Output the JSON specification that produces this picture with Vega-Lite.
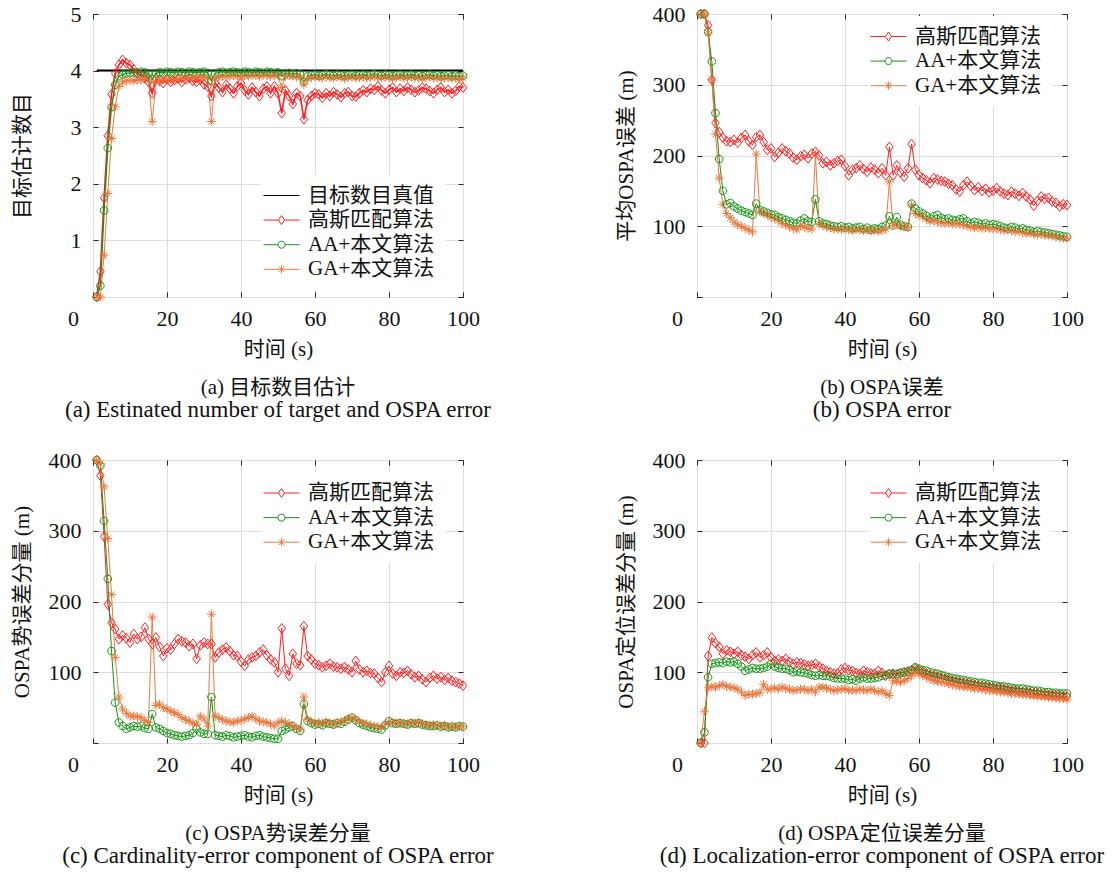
{
"$schema": "https://vega.github.io/schema/vega-lite/v6.json",
"background": "white",
"padding": {"left": 11, "top": 2, "right": 5, "bottom": 5},
"columns": 2,
"spacing": {"row": 163, "column": 234},
"bounds": "flush",
"config": {
  "font": "Liberation Serif, Noto Sans CJK SC",
  "view": {"stroke": "#262626", "strokeWidth": 1},
  "axis": {"grid": true, "gridColor": "#dedede", "gridWidth": 1, "domain": false, "tickSize": -5, "tickColor": "#262626", "tickWidth": 1, "labelFont": "Liberation Serif, Noto Sans CJK SC", "labelFontSize": 22, "labelColor": "#111", "titleFont": "Liberation Serif, Noto Sans CJK SC", "titleFontSize": 21, "titleFontWeight": "normal", "titleColor": "#111", "labelFlush": false, "labelOverlap": false},
  "axisX": {"labelBaseline": "middle", "labelPadding": 26, "titleY": 52, "titleBaseline": "middle"},
  "axisY": {"labelPadding": 17, "labelBaseline": "middle", "titleX": -70.5, "titleY": 141.5, "titleBaseline": "middle", "titleAlign": "center", "titleAngle": -90},
  "legend": {"orient": "none", "title": null, "labelFont": "Liberation Serif, Noto Sans CJK SC", "labelFontSize": 21, "labelColor": "#111", "labelOffset": 16, "labelLimit": 400, "symbolSize": 400, "symbolStrokeWidth": 1, "fillColor": "white", "padding": 10, "rowPadding": 2.6},
  "title": {"orient": "bottom", "anchor": "middle", "font": "Liberation Serif, Noto Sans CJK SC", "fontSize": 21, "fontWeight": "normal", "color": "#111", "subtitleFont": "Liberation Serif, Noto Sans CJK SC", "subtitleFontSize": 23, "subtitleColor": "#111", "subtitlePadding": 1, "offset": 18}
},
"resolve": {"scale": {"color": "independent", "shape": "independent", "stroke": "independent", "strokeWidth": "independent"}, "legend": {"color": "independent", "shape": "independent", "stroke": "independent"}},
"datasets": {
"a": [
{"t":1,"k":4,"r":0,"g":0,"o":0},{"t":2,"k":4,"r":0.45,"g":0.2,"o":0},{"t":3,"k":4,"r":1.75,"g":1.53,"o":0.74},{"t":4,"k":4,"r":2.85,"g":2.63,"o":1.83},{"t":5,"k":4,"r":3.58,"g":3.35,"o":2.8},
{"t":6,"k":4,"r":3.95,"g":3.75,"o":3.36},{"t":7,"k":4,"r":4.1,"g":3.9,"o":3.72},{"t":8,"k":4,"r":4.19,"g":3.93,"o":3.8},{"t":9,"k":4,"r":4.13,"g":3.95,"o":3.82},{"t":10,"k":4,"r":4.1,"g":3.96,"o":3.83},
{"t":11,"k":4,"r":4.02,"g":3.97,"o":3.82},{"t":12,"k":4,"r":3.95,"g":3.96,"o":3.84},{"t":13,"k":4,"r":3.92,"g":3.98,"o":3.83},{"t":14,"k":4,"r":3.88,"g":3.97,"o":3.85},{"t":15,"k":4,"r":3.8,"g":3.95,"o":3.84},
{"t":16,"k":4,"r":3.6,"g":3.85,"o":3.1},{"t":17,"k":4,"r":3.85,"g":3.95,"o":3.8},{"t":18,"k":4,"r":3.82,"g":3.97,"o":3.83},{"t":19,"k":4,"r":3.78,"g":3.96,"o":3.84},{"t":20,"k":4,"r":3.85,"g":3.98,"o":3.85},
{"t":21,"k":4,"r":3.8,"g":3.97,"o":3.84},{"t":22,"k":4,"r":3.83,"g":3.96,"o":3.86},{"t":23,"k":4,"r":3.86,"g":3.98,"o":3.85},{"t":24,"k":4,"r":3.8,"g":3.97,"o":3.87},{"t":25,"k":4,"r":3.84,"g":3.96,"o":3.86},
{"t":26,"k":4,"r":3.87,"g":3.98,"o":3.88},{"t":27,"k":4,"r":3.82,"g":3.97,"o":3.87},{"t":28,"k":4,"r":3.8,"g":3.96,"o":3.88},{"t":29,"k":4,"r":3.84,"g":3.97,"o":3.89},{"t":30,"k":4,"r":3.76,"g":3.98,"o":3.88},
{"t":31,"k":4,"r":3.72,"g":3.96,"o":3.87},{"t":32,"k":4,"r":3.55,"g":3.82,"o":3.1},{"t":33,"k":4,"r":3.78,"g":3.95,"o":3.86},{"t":34,"k":4,"r":3.7,"g":3.97,"o":3.88},{"t":35,"k":4,"r":3.62,"g":3.98,"o":3.9},
{"t":36,"k":4,"r":3.75,"g":3.96,"o":3.89},{"t":37,"k":4,"r":3.68,"g":3.97,"o":3.9},{"t":38,"k":4,"r":3.6,"g":3.98,"o":3.91},{"t":39,"k":4,"r":3.72,"g":3.97,"o":3.9},{"t":40,"k":4,"r":3.78,"g":3.96,"o":3.89},
{"t":41,"k":4,"r":3.65,"g":3.98,"o":3.91},{"t":42,"k":4,"r":3.58,"g":3.97,"o":3.9},{"t":43,"k":4,"r":3.7,"g":3.96,"o":3.92},{"t":44,"k":4,"r":3.62,"g":3.98,"o":3.91},{"t":45,"k":4,"r":3.55,"g":3.97,"o":3.9},
{"t":46,"k":4,"r":3.68,"g":3.96,"o":3.92},{"t":47,"k":4,"r":3.72,"g":3.98,"o":3.91},{"t":48,"k":4,"r":3.6,"g":3.97,"o":3.9},{"t":49,"k":4,"r":3.72,"g":3.96,"o":3.92},{"t":50,"k":4,"r":3.6,"g":3.97,"o":3.91},
{"t":51,"k":4,"r":3.25,"g":3.9,"o":3.7},{"t":52,"k":4,"r":3.65,"g":3.95,"o":3.9},{"t":53,"k":4,"r":3.55,"g":3.96,"o":3.91},{"t":54,"k":4,"r":3.41,"g":3.94,"o":3.9},{"t":55,"k":4,"r":3.6,"g":3.95,"o":3.89},
{"t":56,"k":4,"r":3.55,"g":3.93,"o":3.88},{"t":57,"k":4,"r":3.14,"g":3.8,"o":3.75},{"t":58,"k":4,"r":3.48,"g":3.9,"o":3.86},{"t":59,"k":4,"r":3.55,"g":3.92,"o":3.88},{"t":60,"k":4,"r":3.6,"g":3.93,"o":3.89},
{"t":61,"k":4,"r":3.58,"g":3.91,"o":3.88},{"t":62,"k":4,"r":3.52,"g":3.92,"o":3.87},{"t":63,"k":4,"r":3.6,"g":3.94,"o":3.89},{"t":64,"k":4,"r":3.55,"g":3.92,"o":3.88},{"t":65,"k":4,"r":3.62,"g":3.91,"o":3.87},
{"t":66,"k":4,"r":3.58,"g":3.93,"o":3.89},{"t":67,"k":4,"r":3.53,"g":3.92,"o":3.88},{"t":68,"k":4,"r":3.6,"g":3.9,"o":3.86},{"t":69,"k":4,"r":3.62,"g":3.92,"o":3.88},{"t":70,"k":4,"r":3.55,"g":3.93,"o":3.89},
{"t":71,"k":4,"r":3.54,"g":3.91,"o":3.87},{"t":72,"k":4,"r":3.6,"g":3.92,"o":3.88},{"t":73,"k":4,"r":3.65,"g":3.93,"o":3.89},{"t":74,"k":4,"r":3.62,"g":3.91,"o":3.87},{"t":75,"k":4,"r":3.68,"g":3.92,"o":3.88},
{"t":76,"k":4,"r":3.66,"g":3.94,"o":3.9},{"t":77,"k":4,"r":3.72,"g":3.92,"o":3.88},{"t":78,"k":4,"r":3.65,"g":3.91,"o":3.87},{"t":79,"k":4,"r":3.6,"g":3.93,"o":3.89},{"t":80,"k":4,"r":3.66,"g":3.92,"o":3.88},
{"t":81,"k":4,"r":3.7,"g":3.9,"o":3.86},{"t":82,"k":4,"r":3.62,"g":3.92,"o":3.88},{"t":83,"k":4,"r":3.68,"g":3.93,"o":3.89},{"t":84,"k":4,"r":3.64,"g":3.91,"o":3.87},{"t":85,"k":4,"r":3.7,"g":3.92,"o":3.88},
{"t":86,"k":4,"r":3.66,"g":3.93,"o":3.89},{"t":87,"k":4,"r":3.62,"g":3.91,"o":3.87},{"t":88,"k":4,"r":3.65,"g":3.92,"o":3.88},{"t":89,"k":4,"r":3.7,"g":3.9,"o":3.86},{"t":90,"k":4,"r":3.68,"g":3.92,"o":3.88},
{"t":91,"k":4,"r":3.64,"g":3.93,"o":3.89},{"t":92,"k":4,"r":3.6,"g":3.91,"o":3.87},{"t":93,"k":4,"r":3.66,"g":3.92,"o":3.88},{"t":94,"k":4,"r":3.7,"g":3.9,"o":3.86},{"t":95,"k":4,"r":3.62,"g":3.91,"o":3.87},
{"t":96,"k":4,"r":3.66,"g":3.92,"o":3.88},{"t":97,"k":4,"r":3.6,"g":3.9,"o":3.86},{"t":98,"k":4,"r":3.64,"g":3.91,"o":3.87},{"t":99,"k":4,"r":3.72,"g":3.9,"o":3.86},{"t":100,"k":4,"r":3.7,"g":3.91,"o":3.87}
],
"b": [
{"t":1,"r":400,"g":400,"o":400},{"t":2,"r":400,"g":400,"o":400},{"t":3,"r":384,"g":375,"o":373},{"t":4,"r":307,"g":333,"o":307},{"t":5,"r":246,"g":260,"o":230},
{"t":6,"r":233,"g":195,"o":168},{"t":7,"r":225,"g":150,"o":131},{"t":8,"r":220,"g":131,"o":118},{"t":9,"r":219,"g":133,"o":112},{"t":10,"r":222,"g":128,"o":106},
{"t":11,"r":218,"g":125,"o":102},{"t":12,"r":225,"g":122,"o":100},{"t":13,"r":229,"g":120,"o":97},{"t":14,"r":220,"g":118,"o":95},{"t":15,"r":215,"g":116,"o":92},
{"t":16,"r":226,"g":132,"o":202},{"t":17,"r":229,"g":123,"o":121},{"t":18,"r":219,"g":121,"o":118},{"t":19,"r":208,"g":119,"o":116},{"t":20,"r":210,"g":117,"o":113},
{"t":21,"r":198,"g":116,"o":111},{"t":22,"r":204,"g":113,"o":108},{"t":23,"r":210,"g":111,"o":104},{"t":24,"r":206,"g":109,"o":102},{"t":25,"r":203,"g":107,"o":99},
{"t":26,"r":197,"g":105,"o":97},{"t":27,"r":194,"g":104,"o":95},{"t":28,"r":199,"g":108,"o":101},{"t":29,"r":201,"g":111,"o":99},{"t":30,"r":196,"g":107,"o":97},
{"t":31,"r":203,"g":106,"o":96},{"t":32,"r":205,"g":138,"o":201},{"t":33,"r":200,"g":107,"o":103},{"t":34,"r":189,"g":104,"o":101},{"t":35,"r":191,"g":103,"o":99},
{"t":36,"r":186,"g":101,"o":98},{"t":37,"r":189,"g":100,"o":96},{"t":38,"r":192,"g":99,"o":97},{"t":39,"r":194,"g":100,"o":95},{"t":40,"r":185,"g":98,"o":97},
{"t":41,"r":172,"g":99,"o":95},{"t":42,"r":180,"g":97,"o":94},{"t":43,"r":182,"g":98,"o":96},{"t":44,"r":186,"g":99,"o":95},{"t":45,"r":181,"g":96,"o":94},
{"t":46,"r":177,"g":98,"o":95},{"t":47,"r":183,"g":95,"o":93},{"t":48,"r":180,"g":97,"o":95},{"t":49,"r":175,"g":96,"o":93},{"t":50,"r":182,"g":99,"o":94},
{"t":51,"r":172,"g":101,"o":96},{"t":52,"r":212,"g":114,"o":163},{"t":53,"r":172,"g":101,"o":101},{"t":54,"r":186,"g":113,"o":103},{"t":55,"r":176,"g":102,"o":100},
{"t":56,"r":170,"g":100,"o":99},{"t":57,"r":182,"g":99,"o":98},{"t":58,"r":216,"g":132,"o":130},{"t":59,"r":180,"g":125,"o":118},{"t":60,"r":172,"g":121,"o":116},
{"t":61,"r":168,"g":118,"o":114},{"t":62,"r":165,"g":115,"o":110},{"t":63,"r":161,"g":111,"o":107},{"t":64,"r":168,"g":114,"o":108},{"t":65,"r":166,"g":116,"o":106},
{"t":66,"r":164,"g":112,"o":105},{"t":67,"r":163,"g":110,"o":104},{"t":68,"r":160,"g":111,"o":105},{"t":69,"r":158,"g":109,"o":103},{"t":70,"r":152,"g":108,"o":104},
{"t":71,"r":149,"g":110,"o":103},{"t":72,"r":158,"g":111,"o":102},{"t":73,"r":163,"g":107,"o":100},{"t":74,"r":157,"g":104,"o":99},{"t":75,"r":151,"g":106,"o":98},
{"t":76,"r":155,"g":105,"o":99},{"t":77,"r":150,"g":103,"o":97},{"t":78,"r":153,"g":104,"o":98},{"t":79,"r":148,"g":102,"o":97},{"t":80,"r":150,"g":103,"o":96},
{"t":81,"r":154,"g":102,"o":97},{"t":82,"r":149,"g":100,"o":95},{"t":83,"r":146,"g":98,"o":94},{"t":84,"r":144,"g":97,"o":95},{"t":85,"r":149,"g":99,"o":94},
{"t":86,"r":146,"g":98,"o":92},{"t":87,"r":143,"g":96,"o":93},{"t":88,"r":147,"g":97,"o":91},{"t":89,"r":142,"g":95,"o":90},{"t":90,"r":138,"g":94,"o":91},
{"t":91,"r":129,"g":92,"o":89},{"t":92,"r":136,"g":93,"o":88},{"t":93,"r":142,"g":92,"o":89},{"t":94,"r":139,"g":91,"o":87},{"t":95,"r":140,"g":90,"o":88},
{"t":96,"r":135,"g":89,"o":86},{"t":97,"r":133,"g":88,"o":85},{"t":98,"r":128,"g":87,"o":84},{"t":99,"r":131,"g":86,"o":83},{"t":100,"r":130,"g":85,"o":83}
],
"c": [
{"t":1,"r":400,"g":400,"o":400},{"t":2,"r":378,"g":392,"o":395},{"t":3,"r":292,"g":314,"o":362},{"t":4,"r":196,"g":232,"o":289},{"t":5,"r":170,"g":130,"o":210},
{"t":6,"r":161,"g":57,"o":121},{"t":7,"r":147,"g":29,"o":65},{"t":8,"r":152,"g":24,"o":48},{"t":9,"r":148,"g":20,"o":42},{"t":10,"r":142,"g":22,"o":38},
{"t":11,"r":154,"g":24,"o":38},{"t":12,"r":147,"g":23,"o":37},{"t":13,"r":150,"g":24,"o":36},{"t":14,"r":163,"g":21,"o":32},{"t":15,"r":147,"g":20,"o":29},
{"t":16,"r":140,"g":41,"o":178},{"t":17,"r":149,"g":22,"o":53},{"t":18,"r":136,"g":20,"o":55},{"t":19,"r":123,"g":17,"o":50},{"t":20,"r":134,"g":14,"o":48},
{"t":21,"r":132,"g":13,"o":45},{"t":22,"r":140,"g":11,"o":43},{"t":23,"r":147,"g":10,"o":40},{"t":24,"r":144,"g":9,"o":36},{"t":25,"r":142,"g":10,"o":33},
{"t":26,"r":137,"g":11,"o":31},{"t":27,"r":140,"g":14,"o":28},{"t":28,"r":119,"g":20,"o":26},{"t":29,"r":138,"g":15,"o":38},{"t":30,"r":142,"g":13,"o":34},
{"t":31,"r":140,"g":13,"o":24},{"t":32,"r":140,"g":65,"o":182},{"t":33,"r":121,"g":11,"o":38},{"t":34,"r":128,"g":10,"o":36},{"t":35,"r":132,"g":9,"o":33},
{"t":36,"r":135,"g":11,"o":31},{"t":37,"r":130,"g":10,"o":30},{"t":38,"r":124,"g":8,"o":29},{"t":39,"r":123,"g":9,"o":31},{"t":40,"r":115,"g":10,"o":32},
{"t":41,"r":109,"g":11,"o":34},{"t":42,"r":118,"g":9,"o":36},{"t":43,"r":121,"g":8,"o":38},{"t":44,"r":123,"g":10,"o":34},{"t":45,"r":128,"g":11,"o":31},
{"t":46,"r":132,"g":9,"o":30},{"t":47,"r":124,"g":8,"o":29},{"t":48,"r":118,"g":7,"o":27},{"t":49,"r":114,"g":6,"o":24},{"t":50,"r":100,"g":6,"o":29},
{"t":51,"r":162,"g":17,"o":31},{"t":52,"r":105,"g":19,"o":29},{"t":53,"r":95,"g":22,"o":27},{"t":54,"r":126,"g":24,"o":24},{"t":55,"r":112,"g":20,"o":21},
{"t":56,"r":110,"g":17,"o":19},{"t":57,"r":165,"g":55,"o":65},{"t":58,"r":123,"g":31,"o":33},{"t":59,"r":118,"g":28,"o":30},{"t":60,"r":112,"g":26,"o":28},
{"t":61,"r":110,"g":27,"o":29},{"t":62,"r":107,"g":25,"o":27},{"t":63,"r":109,"g":28,"o":30},{"t":64,"r":112,"g":27,"o":28},{"t":65,"r":108,"g":26,"o":27},
{"t":66,"r":107,"g":28,"o":29},{"t":67,"r":105,"g":27,"o":30},{"t":68,"r":107,"g":30,"o":32},{"t":69,"r":104,"g":33,"o":34},{"t":70,"r":100,"g":36,"o":36},
{"t":71,"r":116,"g":32,"o":33},{"t":72,"r":104,"g":28,"o":30},{"t":73,"r":100,"g":26,"o":28},{"t":74,"r":102,"g":24,"o":27},{"t":75,"r":99,"g":22,"o":25},
{"t":76,"r":98,"g":21,"o":24},{"t":77,"r":92,"g":20,"o":23},{"t":78,"r":86,"g":19,"o":22},{"t":79,"r":100,"g":25,"o":27},{"t":80,"r":109,"g":31,"o":30},
{"t":81,"r":98,"g":28,"o":29},{"t":82,"r":95,"g":27,"o":28},{"t":83,"r":100,"g":28,"o":29},{"t":84,"r":99,"g":27,"o":28},{"t":85,"r":102,"g":26,"o":27},
{"t":86,"r":97,"g":28,"o":29},{"t":87,"r":93,"g":27,"o":28},{"t":88,"r":95,"g":28,"o":29},{"t":89,"r":90,"g":26,"o":27},{"t":90,"r":86,"g":25,"o":26},
{"t":91,"r":92,"g":24,"o":25},{"t":92,"r":95,"g":24,"o":26},{"t":93,"r":91,"g":25,"o":25},{"t":94,"r":93,"g":23,"o":24},{"t":95,"r":89,"g":24,"o":25},
{"t":96,"r":92,"g":22,"o":23},{"t":97,"r":88,"g":23,"o":24},{"t":98,"r":86,"g":22,"o":23},{"t":99,"r":84,"g":24,"o":24},{"t":100,"r":81,"g":23,"o":23}
],
"d": [
{"t":1,"r":0,"g":0,"o":0},{"t":2,"r":0,"g":15,"o":45},{"t":3,"r":123,"g":93,"o":78},{"t":4,"r":149,"g":112,"o":80},{"t":5,"r":141,"g":113,"o":79},
{"t":6,"r":136,"g":114,"o":81},{"t":7,"r":126,"g":113,"o":83},{"t":8,"r":131,"g":115,"o":80},{"t":9,"r":129,"g":114,"o":79},{"t":10,"r":126,"g":115,"o":78},
{"t":11,"r":129,"g":112,"o":76},{"t":12,"r":124,"g":108,"o":72},{"t":13,"r":122,"g":102,"o":67},{"t":14,"r":119,"g":104,"o":69},{"t":15,"r":124,"g":106,"o":69},
{"t":16,"r":128,"g":105,"o":70},{"t":17,"r":121,"g":105,"o":71},{"t":18,"r":124,"g":106,"o":83},{"t":19,"r":128,"g":108,"o":76},{"t":20,"r":121,"g":112,"o":76},
{"t":21,"r":116,"g":108,"o":78},{"t":22,"r":118,"g":106,"o":76},{"t":23,"r":116,"g":105,"o":79},{"t":24,"r":119,"g":105,"o":77},{"t":25,"r":115,"g":103,"o":76},
{"t":26,"r":112,"g":100,"o":74},{"t":27,"r":114,"g":101,"o":75},{"t":28,"r":113,"g":100,"o":76},{"t":29,"r":111,"g":99,"o":76},{"t":30,"r":109,"g":98,"o":74},
{"t":31,"r":110,"g":96,"o":76},{"t":32,"r":112,"g":95,"o":72},{"t":33,"r":108,"g":96,"o":79},{"t":34,"r":105,"g":95,"o":79},{"t":35,"r":102,"g":95,"o":77},
{"t":36,"r":100,"g":94,"o":76},{"t":37,"r":98,"g":92,"o":74},{"t":38,"r":98,"g":91,"o":75},{"t":39,"r":104,"g":91,"o":76},{"t":40,"r":106,"g":91,"o":77},
{"t":41,"r":103,"g":89,"o":74},{"t":42,"r":102,"g":90,"o":75},{"t":43,"r":99,"g":88,"o":74},{"t":44,"r":98,"g":91,"o":76},{"t":45,"r":102,"g":93,"o":75},
{"t":46,"r":100,"g":91,"o":74},{"t":47,"r":98,"g":91,"o":76},{"t":48,"r":98,"g":92,"o":74},{"t":49,"r":102,"g":93,"o":72},{"t":50,"r":99,"g":95,"o":74},
{"t":51,"r":95,"g":96,"o":70},{"t":52,"r":97,"g":98,"o":67},{"t":53,"r":98,"g":97,"o":88},{"t":54,"r":96,"g":98,"o":87},{"t":55,"r":99,"g":99,"o":86},
{"t":56,"r":100,"g":100,"o":88},{"t":57,"r":101,"g":101,"o":91},{"t":58,"r":103,"g":103,"o":95},{"t":59,"r":105,"g":107,"o":100},{"t":60,"r":103,"g":105,"o":98},
{"t":61,"r":100,"g":103,"o":95},{"t":62,"r":98,"g":102,"o":93},{"t":63,"r":96,"g":100,"o":90},{"t":64,"r":95,"g":99,"o":88},{"t":65,"r":94,"g":98,"o":87},
{"t":66,"r":92,"g":96,"o":86},{"t":67,"r":91,"g":95,"o":85},{"t":68,"r":90,"g":93,"o":84},{"t":69,"r":88,"g":92,"o":82},{"t":70,"r":87,"g":91,"o":81},
{"t":71,"r":86,"g":90,"o":80},{"t":72,"r":85,"g":89,"o":79},{"t":73,"r":84,"g":88,"o":79},{"t":74,"r":83,"g":87,"o":78},{"t":75,"r":82,"g":86,"o":77},
{"t":76,"r":81,"g":85,"o":77},{"t":77,"r":80,"g":85,"o":76},{"t":78,"r":80,"g":84,"o":75},{"t":79,"r":79,"g":83,"o":74},{"t":80,"r":78,"g":82,"o":74},
{"t":81,"r":77,"g":81,"o":73},{"t":82,"r":77,"g":80,"o":72},{"t":83,"r":76,"g":80,"o":72},{"t":84,"r":75,"g":79,"o":71},{"t":85,"r":74,"g":78,"o":70},
{"t":86,"r":74,"g":77,"o":70},{"t":87,"r":73,"g":77,"o":69},{"t":88,"r":72,"g":77,"o":69},{"t":89,"r":72,"g":76,"o":68},{"t":90,"r":71,"g":75,"o":67},
{"t":91,"r":70,"g":74,"o":67},{"t":92,"r":70,"g":74,"o":66},{"t":93,"r":69,"g":73,"o":66},{"t":94,"r":69,"g":72,"o":65},{"t":95,"r":68,"g":72,"o":65},
{"t":96,"r":68,"g":71,"o":64},{"t":97,"r":67,"g":71,"o":64},{"t":98,"r":67,"g":70,"o":63},{"t":99,"r":66,"g":70,"o":63},{"t":100,"r":66,"g":70,"o":62}
]
},
"concat": [
{
 "width": 370, "height": 283,
 "data": {"name": "a"},
 "transform": [{"fold": ["k", "r", "g", "o"], "as": ["s", "v"]}],
 "title": {"text": "(a) 目标数目估计", "subtitle": "(a) Estinated number of target and OSPA error"},
 "layer": [
  {"mark": {"type": "line"},
   "encoding": {
    "x": {"field": "t", "type": "quantitative", "scale": {"domain": [0, 100], "nice": false}, "axis": {"title": "时间 (s)", "values": [0, 20, 40, 60, 80, 100], "labelOffset": {"condition": {"test": "datum.value === 0", "value": -20}, "value": 0}}},
    "y": {"field": "v", "type": "quantitative", "scale": {"domain": [0, 5], "nice": false}, "axis": {"title": "目标估计数目", "values": [0, 1, 2, 3, 4, 5], "labelExpr": "datum.value === 0 ? '' : datum.label"}},
    "color": {"field": "s", "type": "nominal", "scale": {"domain": ["k", "r", "g", "o"], "range": ["#000000", "#ff2020", "#149614", "#ea7a3f"]}, "legend": null},
    "strokeWidth": {"field": "s", "type": "nominal", "scale": {"domain": ["k", "r", "g", "o"], "range": [2, 1, 1, 1]}, "legend": null}
   }},
  {"transform": [{"filter": "datum.s != 'k'"}],
   "mark": {"type": "point", "filled": false, "strokeWidth": 1, "size": 80, "opacity": 1},
   "encoding": {
    "x": {"field": "t", "type": "quantitative", "axis": null},
    "y": {"field": "v", "type": "quantitative", "axis": null},
    "color": {"field": "s", "type": "nominal", "legend": null},
    "shape": {"field": "s", "type": "nominal", "scale": {"domain": ["r", "g", "o"], "range": ["M0,-1.1L0.85,0L0,1.1L-0.85,0Z", "M-0.85,0A0.85,0.85 0 1,1 0.85,0A0.85,0.85 0 1,1 -0.85,0Z", "M0,-1L0,1M-1,0L1,0M-0.7,-0.7L0.7,0.7M-0.7,0.7L0.7,-0.7"]}, "legend": null}
   }},
  {"transform": [{"filter": "false"}],
   "mark": {"type": "point", "filled": false, "strokeWidth": 1, "opacity": 1},
   "encoding": {
    "x": {"field": "t", "type": "quantitative", "axis": {"orient": "top", "labels": false, "title": null, "grid": false, "values": [0, 20, 40, 60, 80, 100]}},
    "y": {"field": "v", "type": "quantitative", "axis": {"orient": "right", "labels": false, "title": null, "grid": false, "values": [0, 1, 2, 3, 4, 5]}},
    "stroke": {"field": "s", "type": "nominal", "scale": {"domain": ["k", "r", "g", "o"], "range": ["#000000", "#ff2020", "#149614", "#ea7a3f"]}, "legend": {"legendX": 168, "legendY": 161, "labelExpr": "datum.label == 'k' ? '目标数目真值' : datum.label == 'r' ? '高斯匹配算法' : datum.label == 'g' ? 'AA+本文算法' : 'GA+本文算法'"}},
    "shape": {"field": "s", "type": "nominal", "scale": {"domain": ["k", "r", "g", "o"], "range": ["M-1.8,0L1.8,0", "M-1.8,0L-0.3,0M0.3,0L1.8,0M0,-0.45L0.3,0L0,0.45L-0.3,0Z", "M-1.8,0L-0.35,0M0.35,0L1.8,0M-0.35,0A0.35,0.35 0 1,1 0.35,0A0.35,0.35 0 1,1 -0.35,0Z", "M-1.8,0L1.8,0M0,-0.4L0,0.4M-0.28,-0.28L0.28,0.28M-0.28,0.28L0.28,-0.28"]}, "legend": {"legendX": 168, "legendY": 161, "labelExpr": "datum.label == 'k' ? '目标数目真值' : datum.label == 'r' ? '高斯匹配算法' : datum.label == 'g' ? 'AA+本文算法' : 'GA+本文算法'"}}
   }}
 ],
 "resolve": {"scale": {"shape": "independent", "stroke": "independent"}, "axis": {"x": "independent", "y": "independent"}}
},
{
 "width": 370, "height": 283,
 "data": {"name": "b"},
 "transform": [{"fold": ["r", "g", "o"], "as": ["s", "v"]}],
 "title": {"text": "(b) OSPA误差", "subtitle": "(b) OSPA error"},
 "layer": [
  {"mark": {"type": "line", "strokeWidth": 1},
   "encoding": {
    "x": {"field": "t", "type": "quantitative", "scale": {"domain": [0, 100], "nice": false}, "axis": {"title": "时间 (s)", "values": [0, 20, 40, 60, 80, 100], "labelOffset": {"condition": {"test": "datum.value === 0", "value": -20}, "value": 0}}},
    "y": {"field": "v", "type": "quantitative", "scale": {"domain": [0, 400], "nice": false}, "axis": {"title": "平均OSPA误差 (m)", "values": [0, 100, 200, 300, 400], "labelExpr": "datum.value === 0 ? '' : datum.label"}},
    "color": {"field": "s", "type": "nominal", "scale": {"domain": ["r", "g", "o"], "range": ["#ff2020", "#149614", "#ea7a3f"]}, "legend": null}
   }},
  {"mark": {"type": "point", "filled": false, "strokeWidth": 1, "size": 80, "opacity": 1},
   "encoding": {
    "x": {"field": "t", "type": "quantitative", "axis": null},
    "y": {"field": "v", "type": "quantitative", "axis": null},
    "color": {"field": "s", "type": "nominal", "legend": null},
    "shape": {"field": "s", "type": "nominal", "scale": {"domain": ["r", "g", "o"], "range": ["M0,-1.1L0.85,0L0,1.1L-0.85,0Z", "M-0.85,0A0.85,0.85 0 1,1 0.85,0A0.85,0.85 0 1,1 -0.85,0Z", "M0,-1L0,1M-1,0L1,0M-0.7,-0.7L0.7,0.7M-0.7,0.7L0.7,-0.7"]}, "legend": null}
   }},
  {"transform": [{"filter": "false"}],
   "mark": {"type": "point", "filled": false, "strokeWidth": 1, "opacity": 1},
   "encoding": {
    "x": {"field": "t", "type": "quantitative", "axis": {"orient": "top", "labels": false, "title": null, "grid": false, "values": [0, 20, 40, 60, 80, 100]}},
    "y": {"field": "v", "type": "quantitative", "axis": {"orient": "right", "labels": false, "title": null, "grid": false, "values": [0, 100, 200, 300, 400]}},
    "stroke": {"field": "s", "type": "nominal", "scale": {"domain": ["r", "g", "o"], "range": ["#ff2020", "#149614", "#ea7a3f"]}, "legend": {"legendX": 171, "legendY": 2, "rowPadding": 2.6, "labelExpr": "datum.label == 'r' ? '高斯匹配算法' : datum.label == 'g' ? 'AA+本文算法' : 'GA+本文算法'"}},
    "shape": {"field": "s", "type": "nominal", "scale": {"domain": ["r", "g", "o"], "range": ["M-1.8,0L-0.3,0M0.3,0L1.8,0M0,-0.45L0.3,0L0,0.45L-0.3,0Z", "M-1.8,0L-0.35,0M0.35,0L1.8,0M-0.35,0A0.35,0.35 0 1,1 0.35,0A0.35,0.35 0 1,1 -0.35,0Z", "M-1.8,0L1.8,0M0,-0.4L0,0.4M-0.28,-0.28L0.28,0.28M-0.28,0.28L0.28,-0.28"]}, "legend": {"legendX": 171, "legendY": 2, "rowPadding": 2.6, "labelExpr": "datum.label == 'r' ? '高斯匹配算法' : datum.label == 'g' ? 'AA+本文算法' : 'GA+本文算法'"}}
   }}
 ],
 "resolve": {"scale": {"shape": "independent", "stroke": "independent"}, "axis": {"x": "independent", "y": "independent"}}
},
{
 "width": 370, "height": 283,
 "data": {"name": "c"},
 "transform": [{"fold": ["r", "g", "o"], "as": ["s", "v"]}],
 "title": {"text": "(c) OSPA势误差分量", "subtitle": "(c) Cardinality-error component of OSPA error"},
 "layer": [
  {"mark": {"type": "line", "strokeWidth": 1},
   "encoding": {
    "x": {"field": "t", "type": "quantitative", "scale": {"domain": [0, 100], "nice": false}, "axis": {"title": "时间 (s)", "values": [0, 20, 40, 60, 80, 100], "labelOffset": {"condition": {"test": "datum.value === 0", "value": -20}, "value": 0}}},
    "y": {"field": "v", "type": "quantitative", "scale": {"domain": [0, 400], "nice": false}, "axis": {"title": "OSPA势误差分量 (m)", "values": [0, 100, 200, 300, 400], "labelExpr": "datum.value === 0 ? '' : datum.label"}},
    "color": {"field": "s", "type": "nominal", "scale": {"domain": ["r", "g", "o"], "range": ["#ff2020", "#149614", "#ea7a3f"]}, "legend": null}
   }},
  {"mark": {"type": "point", "filled": false, "strokeWidth": 1, "size": 80, "opacity": 1},
   "encoding": {
    "x": {"field": "t", "type": "quantitative", "axis": null},
    "y": {"field": "v", "type": "quantitative", "axis": null},
    "color": {"field": "s", "type": "nominal", "legend": null},
    "shape": {"field": "s", "type": "nominal", "scale": {"domain": ["r", "g", "o"], "range": ["M0,-1.1L0.85,0L0,1.1L-0.85,0Z", "M-0.85,0A0.85,0.85 0 1,1 0.85,0A0.85,0.85 0 1,1 -0.85,0Z", "M0,-1L0,1M-1,0L1,0M-0.7,-0.7L0.7,0.7M-0.7,0.7L0.7,-0.7"]}, "legend": null}
   }},
  {"transform": [{"filter": "false"}],
   "mark": {"type": "point", "filled": false, "strokeWidth": 1, "opacity": 1},
   "encoding": {
    "x": {"field": "t", "type": "quantitative", "axis": {"orient": "top", "labels": false, "title": null, "grid": false, "values": [0, 20, 40, 60, 80, 100]}},
    "y": {"field": "v", "type": "quantitative", "axis": {"orient": "right", "labels": false, "title": null, "grid": false, "values": [0, 100, 200, 300, 400]}},
    "stroke": {"field": "s", "type": "nominal", "scale": {"domain": ["r", "g", "o"], "range": ["#ff2020", "#149614", "#ea7a3f"]}, "legend": {"legendX": 168, "legendY": 12.5, "labelExpr": "datum.label == 'r' ? '高斯匹配算法' : datum.label == 'g' ? 'AA+本文算法' : 'GA+本文算法'"}},
    "shape": {"field": "s", "type": "nominal", "scale": {"domain": ["r", "g", "o"], "range": ["M-1.8,0L-0.3,0M0.3,0L1.8,0M0,-0.45L0.3,0L0,0.45L-0.3,0Z", "M-1.8,0L-0.35,0M0.35,0L1.8,0M-0.35,0A0.35,0.35 0 1,1 0.35,0A0.35,0.35 0 1,1 -0.35,0Z", "M-1.8,0L1.8,0M0,-0.4L0,0.4M-0.28,-0.28L0.28,0.28M-0.28,0.28L0.28,-0.28"]}, "legend": {"legendX": 168, "legendY": 12.5, "labelExpr": "datum.label == 'r' ? '高斯匹配算法' : datum.label == 'g' ? 'AA+本文算法' : 'GA+本文算法'"}}
   }}
 ],
 "resolve": {"scale": {"shape": "independent", "stroke": "independent"}, "axis": {"x": "independent", "y": "independent"}}
},
{
 "width": 370, "height": 283,
 "data": {"name": "d"},
 "transform": [{"fold": ["r", "g", "o"], "as": ["s", "v"]}],
 "title": {"text": "(d) OSPA定位误差分量", "subtitle": "(d) Localization-error component of OSPA error"},
 "layer": [
  {"mark": {"type": "line", "strokeWidth": 1},
   "encoding": {
    "x": {"field": "t", "type": "quantitative", "scale": {"domain": [0, 100], "nice": false}, "axis": {"title": "时间 (s)", "values": [0, 20, 40, 60, 80, 100], "labelOffset": {"condition": {"test": "datum.value === 0", "value": -20}, "value": 0}}},
    "y": {"field": "v", "type": "quantitative", "scale": {"domain": [0, 400], "nice": false}, "axis": {"title": "OSPA定位误差分量 (m)", "values": [0, 100, 200, 300, 400], "labelExpr": "datum.value === 0 ? '' : datum.label"}},
    "color": {"field": "s", "type": "nominal", "scale": {"domain": ["r", "g", "o"], "range": ["#ff2020", "#149614", "#ea7a3f"]}, "legend": null}
   }},
  {"mark": {"type": "point", "filled": false, "strokeWidth": 1, "size": 80, "opacity": 1},
   "encoding": {
    "x": {"field": "t", "type": "quantitative", "axis": null},
    "y": {"field": "v", "type": "quantitative", "axis": null},
    "color": {"field": "s", "type": "nominal", "legend": null},
    "shape": {"field": "s", "type": "nominal", "scale": {"domain": ["r", "g", "o"], "range": ["M0,-1.1L0.85,0L0,1.1L-0.85,0Z", "M-0.85,0A0.85,0.85 0 1,1 0.85,0A0.85,0.85 0 1,1 -0.85,0Z", "M0,-1L0,1M-1,0L1,0M-0.7,-0.7L0.7,0.7M-0.7,0.7L0.7,-0.7"]}, "legend": null}
   }},
  {"transform": [{"filter": "false"}],
   "mark": {"type": "point", "filled": false, "strokeWidth": 1, "opacity": 1},
   "encoding": {
    "x": {"field": "t", "type": "quantitative", "axis": {"orient": "top", "labels": false, "title": null, "grid": false, "values": [0, 20, 40, 60, 80, 100]}},
    "y": {"field": "v", "type": "quantitative", "axis": {"orient": "right", "labels": false, "title": null, "grid": false, "values": [0, 100, 200, 300, 400]}},
    "stroke": {"field": "s", "type": "nominal", "scale": {"domain": ["r", "g", "o"], "range": ["#ff2020", "#149614", "#ea7a3f"]}, "legend": {"legendX": 171, "legendY": 12.5, "labelExpr": "datum.label == 'r' ? '高斯匹配算法' : datum.label == 'g' ? 'AA+本文算法' : 'GA+本文算法'"}},
    "shape": {"field": "s", "type": "nominal", "scale": {"domain": ["r", "g", "o"], "range": ["M-1.8,0L-0.3,0M0.3,0L1.8,0M0,-0.45L0.3,0L0,0.45L-0.3,0Z", "M-1.8,0L-0.35,0M0.35,0L1.8,0M-0.35,0A0.35,0.35 0 1,1 0.35,0A0.35,0.35 0 1,1 -0.35,0Z", "M-1.8,0L1.8,0M0,-0.4L0,0.4M-0.28,-0.28L0.28,0.28M-0.28,0.28L0.28,-0.28"]}, "legend": {"legendX": 171, "legendY": 12.5, "labelExpr": "datum.label == 'r' ? '高斯匹配算法' : datum.label == 'g' ? 'AA+本文算法' : 'GA+本文算法'"}}
   }}
 ],
 "resolve": {"scale": {"shape": "independent", "stroke": "independent"}, "axis": {"x": "independent", "y": "independent"}}
}
]
}
